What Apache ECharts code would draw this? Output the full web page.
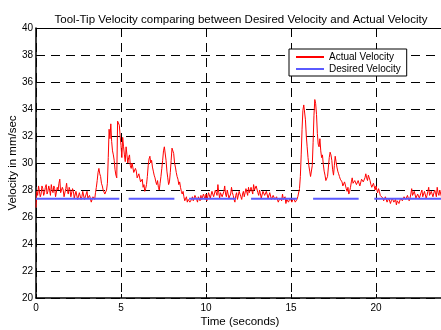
<!DOCTYPE html>
<html>
<head>
<meta charset="utf-8">
<script src="https://cdn.jsdelivr.net/npm/echarts@6/dist/echarts.min.js"></script>
<style>html,body{margin:0;padding:0;background:#fff}#c{width:441px;height:330px}</style>
</head>
<body>
<div id="c"></div>
<script>
// ---- data ----
var titleText = 'Tool-Tip Velocity comparing between Desired Velocity and Actual Velocity';
var xAxisName = 'Time (seconds)';
var yAxisName = 'Velocity in mm/sec';
var seriesNames = ['Actual Velocity', 'Desired Velocity'];
var xRange = [0, 24];
var yRange = [20, 40];
var sampleStep = 0.05; // seconds between samples of the actual velocity (one row = one second)
var actualVelocity = [
  26.7,27.9,27.6,28.3,28.2,27.5,27.7,28.3,28.1,27.6,27.8,28.2,28.4,27.7,27.9,28.3,28.0,27.6,28.4,28.0,
  27.8,28.3,28.1,27.5,27.6,28.2,28.0,28.5,28.8,27.8,27.7,28.2,28.0,27.5,27.6,28.1,28.5,27.9,27.7,28.2,
  28.0,27.5,27.6,28.1,27.9,27.4,27.5,27.9,27.8,27.3,27.4,27.8,27.7,27.3,27.5,27.9,27.8,27.3,27.4,27.7,
  27.9,27.4,27.3,27.6,27.5,27.1,27.2,27.5,27.4,27.3,27.8,28.2,28.7,29.3,29.6,29.2,29.0,28.5,28.3,28.0,
  28.1,27.7,27.6,28.0,28.5,30.4,32.5,31.8,32.9,31.6,30.9,30.6,30.2,29.5,29.1,28.9,33.1,33.2,32.8,32.0,
  31.3,30.4,31.9,31.2,30.6,30.1,31.2,30.6,30.0,30.4,30.6,29.8,29.6,30.0,29.9,29.3,29.2,29.6,29.4,28.9,
  28.8,29.2,29.1,28.6,28.5,28.8,28.2,28.4,27.9,28.1,28.4,29.0,29.8,30.3,30.5,30.0,30.2,29.7,29.4,29.1,
  28.9,28.6,28.4,28.7,28.2,28.0,28.5,29.0,29.6,30.2,30.9,31.2,31.1,30.2,29.4,28.9,28.4,28.6,29.3,30.2,
  31.1,31.2,30.7,30.0,29.7,29.3,29.0,28.8,28.4,28.6,28.2,27.9,27.7,27.9,27.5,27.2,27.3,27.5,27.1,27.3,
  27.4,27.1,27.0,27.3,27.5,27.2,27.2,27.6,27.6,27.3,27.1,27.5,27.4,27.2,27.6,27.3,27.2,27.7,27.5,27.3,
  27.7,27.2,27.3,27.8,27.8,27.4,27.4,27.9,27.9,27.5,27.5,28.0,27.8,27.6,28.4,27.8,27.4,27.8,27.9,27.5,
  27.6,27.9,28.3,27.7,27.5,28.0,27.9,27.4,27.3,27.7,28.2,27.8,27.6,27.3,27.1,27.6,27.8,27.3,27.4,27.9,
  27.8,27.5,27.3,27.7,27.9,27.5,27.6,28.1,28.0,27.6,28.2,27.8,27.7,28.2,28.1,27.7,28.4,28.0,27.9,28.3,
  28.2,27.8,27.6,28.0,27.9,27.4,27.5,27.9,28.0,27.6,27.6,27.9,27.8,27.4,27.4,27.8,27.7,27.3,27.3,27.6,
  27.6,27.3,27.2,27.5,27.5,27.1,27.1,27.4,27.4,27.2,27.7,27.3,27.2,27.5,27.0,27.3,27.4,27.1,27.1,27.4,
  27.3,27.1,27.0,27.4,27.4,27.1,27.1,27.3,27.5,27.6,28.1,29.0,30.6,32.5,33.9,34.3,34.2,33.2,32.0,31.2,
  30.4,29.8,29.4,29.0,28.9,29.8,31.5,33.5,34.7,34.4,33.6,32.2,31.4,31.2,31.8,30.9,30.4,30.6,29.9,29.4,
  29.1,28.7,28.6,29.0,29.7,30.4,30.8,30.6,30.2,29.5,29.1,29.8,30.5,30.1,29.7,29.4,29.2,29.0,28.8,28.9,
  28.6,28.3,28.2,28.6,28.5,28.1,27.9,28.2,27.7,27.9,28.2,28.6,28.9,28.5,28.4,28.7,28.8,28.4,28.3,28.7,
  28.7,28.3,28.4,28.8,28.9,28.6,28.5,28.9,29.2,28.9,28.7,29.1,29.0,28.7,28.4,28.2,28.1,28.5,28.4,28.0,
  28.3,28.0,27.8,28.1,27.9,27.6,27.5,27.7,27.4,27.2,27.2,27.5,27.4,27.1,27.1,27.4,27.3,27.0,27.2,27.4,
  27.4,27.1,27.0,27.3,26.9,27.2,27.3,27.0,27.1,27.4,27.5,27.2,27.2,27.5,27.6,27.3,27.3,27.6,27.5,27.2,
  27.4,27.7,28.1,27.6,27.5,27.9,27.8,27.4,27.3,27.7,27.7,27.4,27.4,27.8,28.0,27.5,27.5,27.9,27.9,27.4,
  27.6,27.9,28.2,27.6,27.5,27.9,27.9,27.5,27.6,28.0,27.8,27.5,28.2,27.8,27.6,28.0,27.9,27.5,27.5,27.8,
  27.7
];
var desiredVelocity = 27.35;
var desiredSegments = [[0, 4.9], [5.45, 8.14], [9.0, 11.76], [12.65, 15.35], [16.3, 18.98], [19.9, 24]];

// ---- build series data ----
var actualData = actualVelocity.map(function (v, i) { return [+(i * sampleStep).toFixed(2), v]; });
var desiredData = [];
desiredSegments.forEach(function (s, i) {
  if (i > 0) desiredData.push([s[0], '-']);
  desiredData.push([s[0], desiredVelocity]);
  desiredData.push([s[1], desiredVelocity]);
});

var FONT = '"Liberation Sans", Arial, Helvetica, sans-serif';
var dash = { color: '#000', width: 1, type: [9, 6] };
var chart = echarts.init(document.getElementById('c'), null, { renderer: 'canvas' });
chart.setOption({
  animation: false,
  backgroundColor: '#fff',
  textStyle: { fontFamily: FONT, color: '#000' },
  title: {
    text: titleText, left: 236, textAlign: 'center', top: 9,
    textStyle: { fontFamily: FONT, fontSize: 11.5, fontWeight: 'normal', color: '#000' }
  },
  legend: {
    orient: 'vertical', left: 289, top: 49,
    itemWidth: 28, itemHeight: 12, itemGap: 2, padding: [3, 6, 2, 6],
    borderColor: '#000', borderWidth: 1, backgroundColor: '#fff',
    itemStyle: { opacity: 0 },
    textStyle: { fontFamily: FONT, fontSize: 10, color: '#000' },
    data: seriesNames
  },
  grid: { left: 36, top: 28, width: 408, height: 270, containLabel: false, outerBoundsMode: 'none' },
  xAxis: [{
    type: 'value', min: xRange[0], max: xRange[1], interval: 5, position: 'bottom',
    name: xAxisName, nameLocation: 'middle', nameGap: 18, nameMoveOverlap: false,
    nameTextStyle: { fontFamily: FONT, fontSize: 11.5, color: '#000' },
    axisLine: { show: true, onZero: false, lineStyle: { color: '#000', width: 1.5 } },
    axisTick: { show: true, inside: true, length: 4, lineStyle: { color: '#000' } },
    axisLabel: { fontFamily: FONT, fontSize: 10, color: '#000', margin: 5, showMaxLabel: false },
    splitLine: { show: true, lineStyle: dash }
  }, {
    type: 'value', min: xRange[0], max: xRange[1], interval: 5, position: 'top',
    axisLine: { show: true, onZero: false, lineStyle: { color: '#000', width: 1 } },
    axisTick: { show: true, inside: true, length: 4, lineStyle: { color: '#000' } },
    axisLabel: { show: false }, splitLine: { show: false }
  }],
  yAxis: {
    type: 'value', min: yRange[0], max: yRange[1], interval: 2,
    name: yAxisName, nameLocation: 'middle', nameGap: 17, nameMoveOverlap: false,
    nameTextStyle: { fontFamily: FONT, fontSize: 11.5, color: '#000' },
    axisLine: { show: true, onZero: false, lineStyle: { color: '#000', width: 1.5 } },
    axisTick: { show: true, inside: true, length: 4, lineStyle: { color: '#000' } },
    axisLabel: { fontFamily: FONT, fontSize: 10, color: '#000', margin: 3 },
    splitLine: { show: true, lineStyle: dash }
  },
  series: [{
    name: seriesNames[0], type: 'line', data: actualData, symbol: 'none',
    lineStyle: { color: '#ff0000', width: 1 }, itemStyle: { color: '#ff0000' }, z: 3
  }, {
    name: seriesNames[1], type: 'line', data: desiredData, symbol: 'none', connectNulls: false,
    lineStyle: { color: '#5a5aff', width: 2 }, itemStyle: { color: '#5a5aff' }, z: 4
  }]
});
</script>
</body>
</html>
